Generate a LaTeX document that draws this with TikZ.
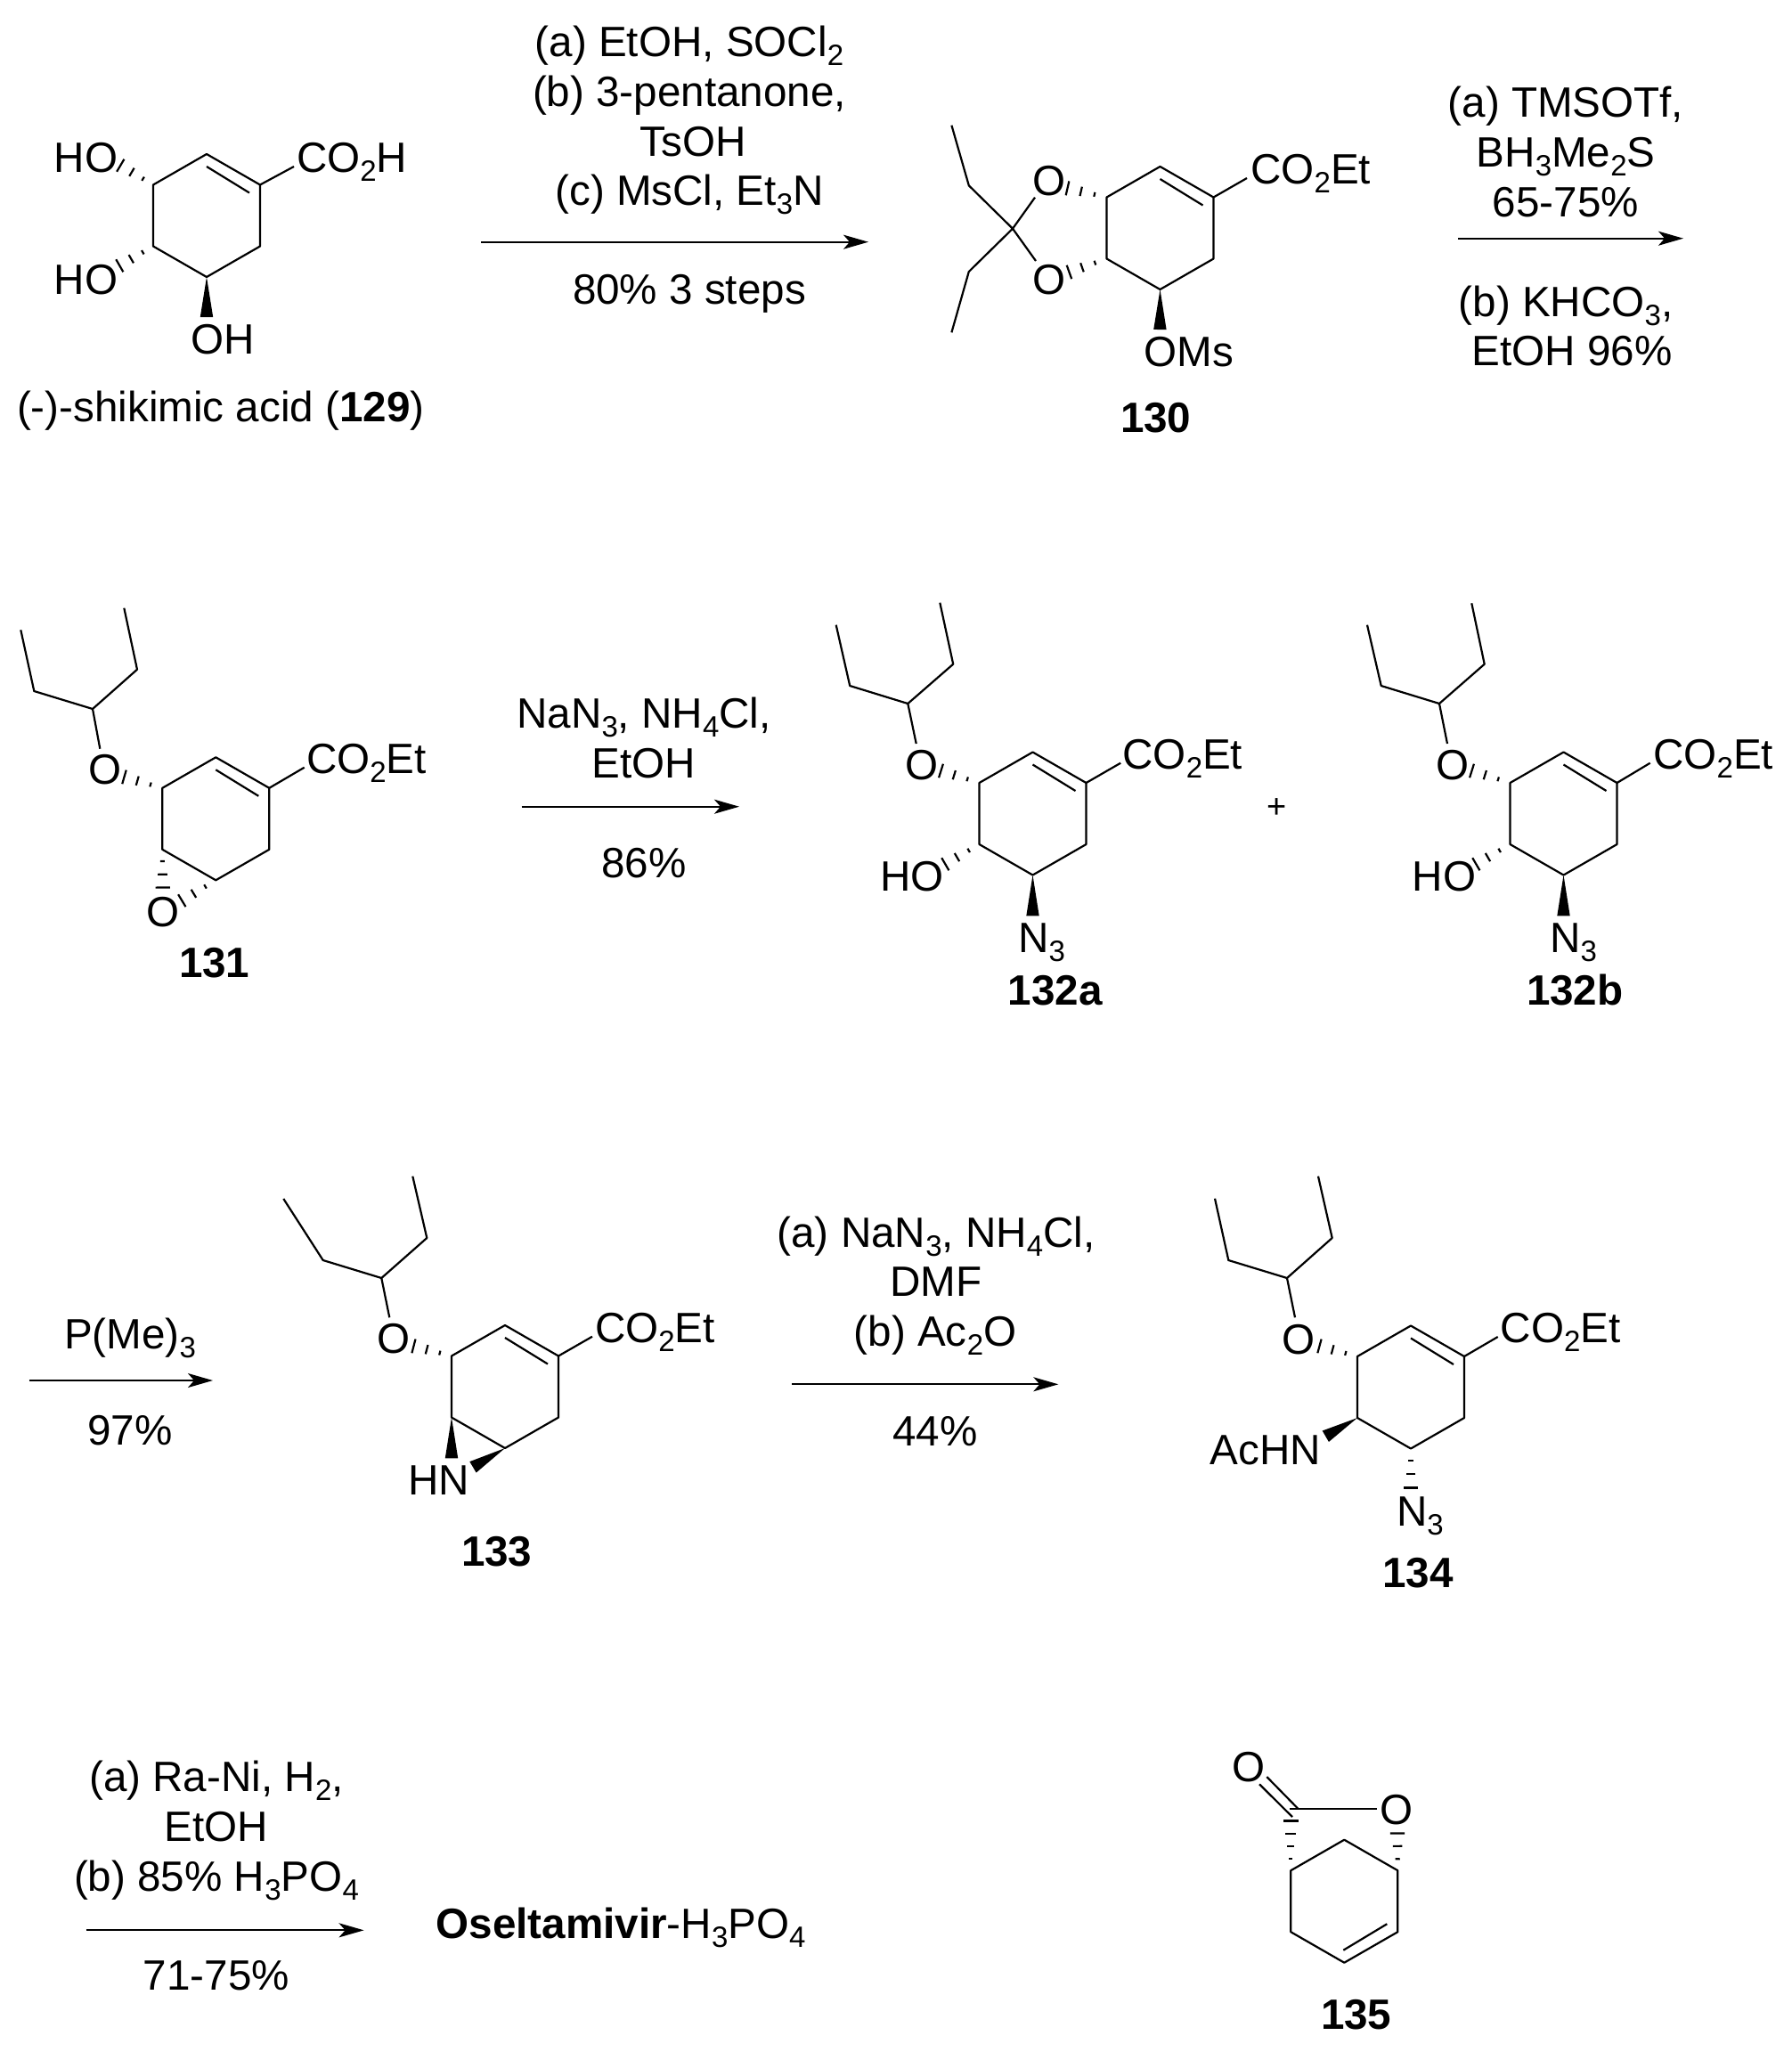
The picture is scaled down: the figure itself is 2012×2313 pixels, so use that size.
\documentclass[tikz,border=0pt]{standalone}
\usepackage{fontspec}
\setmainfont{Liberation Sans}
\usepackage{tikz}
\usetikzlibrary{calc,arrows.meta}

\newcommand{\sbs}[1]{\raisebox{-5pt}{\fontsize{16.5}{16.5}\selectfont #1}}
% six ring: 1 is the top corner, then clockwise
\newcommand{\ringsix}[3]{
	\coordinate (#11) at (#2,#3-69);
	\coordinate (#12) at (#2+60,#3-34.5);
	\coordinate (#13) at (#2+60,#3+34.5);
	\coordinate (#14) at (#2,#3+69);
	\coordinate (#15) at (#2-60,#3+34.5);
	\coordinate (#16) at (#2-60,#3-34.5);
	\draw[bond] (#11) -- (#12) -- (#13) -- (#14) -- (#15) -- (#16) -- cycle;
}
\newcommand{\enebond}[1]{\draw[bond] ($(#11)+(0,14)$) -- ($(#12)+(-12,9)$);}
\newcommand{\hashb}[3]{
	\foreach \i in {1,...,#3}{
		\pgfmathsetmacro{\hpos}{(\i-0.1)/#3}
		\pgfmathsetmacro{\hwid}{\hpos*4.2}
		\draw[bond] ($(#1)!\hpos!(#2)!\hwid pt!90:(#2)$) -- ($(#1)!\hpos!(#2)!\hwid pt!-90:(#2)$);
	}
}
\newcommand{\wedgeb}[2]{\fill[black] (#1) -- ($(#2)!3.6pt!90:(#1)$) -- ($(#2)!3.6pt!-90:(#1)$) -- cycle;}

\begin{document}
\begin{tikzpicture}[x=0.5pt,y=-0.5pt,>={Stealth[length=14pt,width=8pt,inset=3.5pt]}]
	\tikzstyle{bond}=[line width=1.1pt,line join=round]
	\tikzstyle{rxn}=[->,line width=1pt]
	\tikzstyle{atom}=[inner sep=0pt,anchor=base west,xshift=-1.2pt,font=\fontsize{23.8}{28}\selectfont]
	\tikzstyle{lab}=[inner sep=0pt,anchor=base,font=\fontsize{23.8}{28}\selectfont]

	\useasboundingbox (0,0) rectangle (2012,2313);

	% 129
	\ringsix{a}{232}{242}
	\enebond{a}
	\coordinate (ac) at (330,187);
	\coordinate (ao) at (134,185);
	\coordinate (ap) at (133,299);
	\coordinate (aw) at (232,356);
	\draw[bond] (a2) -- (ac);
	\hashb{a6}{ao}{3}
	\hashb{a5}{ap}{3}
	\wedgeb{a4}{aw}
	\node[atom] (aco2h) at (335,193) {CO\sbs{2}H};
	\node[atom] (aho1) at (63,193) {HO};
	\node[atom] (aho2) at (63,330) {HO};
	\node[atom] (aoh) at (216,397) {OH};
	\node[atom] (aname) at (21,473) {(-)-shikimic acid (\textbf{129})};

	% first arrow
	\node[lab] (r1a) at (774,63.3) {(a) EtOH, SOCl\sbs{2}};
	\node[lab] (r1b) at (774,119) {(b) 3-pentanone,};
	\node[lab] (r1c) at (778,175) {TsOH};
	\node[lab] (r1d) at (774,230.7) {(c) MsCl, Et\sbs{3}N};
	\node[lab] (r1e) at (774,341.7) {80\% 3 steps};
	\coordinate (r1s) at (540,271.7);
	\coordinate (r1t) at (975,271.7);
	\draw[rxn] (r1s) -- (r1t);

	% 130
	\ringsix{b}{1302.5}{256}
	\enebond{b}
	\coordinate (bq) at (1137,256.7);
	\coordinate (be1) at (1068.4,140.7);
	\coordinate (be2) at (1087.8,208.3);
	\coordinate (be3) at (1087.8,305);
	\coordinate (be4) at (1068.4,373.3);
	\coordinate (bo1) at (1162,221.7);
	\coordinate (bo2) at (1163,293);
	\coordinate (bh1) at (1197,211);
	\coordinate (bh2) at (1199,306);
	\coordinate (bw) at (1302.4,370);
	\coordinate (bc) at (1400,200);
	\draw[bond] (be1) -- (be2) -- (bq) -- (be3) -- (be4);
	\draw[bond] (bo1) -- (bq) -- (bo2);
	\draw[bond] (b2) -- (bc);
	\hashb{b6}{bh1}{3}
	\hashb{b5}{bh2}{3}
	\wedgeb{b4}{bw}
	\node[atom] (bco) at (1406.3,206) {CO\sbs{2}Et};
	\node[atom] (boa) at (1161,219.3) {O};
	\node[atom] (bob) at (1161,330) {O};
	\node[atom] (boms) at (1286.5,411.7) {OMs};
	\node[atom] (bname) at (1260,485) {\textbf{130}};

	% second arrow
	\node[lab] (r2a) at (1758,131.7) {(a) TMSOTf,};
	\node[lab] (r2b) at (1758,187.3) {BH\sbs{3}Me\sbs{2}S};
	\node[lab] (r2c) at (1758,243.3) {65-75\%};
	\node[lab] (r2d) at (1758,355) {(b) KHCO\sbs{3},};
	\node[lab] (r2e) at (1765,410.7) {EtOH 96\%};
	\coordinate (r2s) at (1637.3,267.7);
	\coordinate (r2t) at (1890,267.7);
	\draw[rxn] (r2s) -- (r2t);

	% 131
	\ringsix{c}{242.3}{919.3}
	\enebond{c}
	\coordinate (cp1) at (23.3,707.3);
	\coordinate (cp2) at (38.3,776);
	\coordinate (cp3) at (104,796);
	\coordinate (cp4) at (154,751.7);
	\coordinate (cp5) at (139.3,682.7);
	\coordinate (cp6) at (112.3,840.7);
	\coordinate (ch1) at (138,872);
	\coordinate (ch2) at (182.7,998);
	\coordinate (ch3) at (203,1012);
	\coordinate (cc) at (341.7,861.7);
	\draw[bond] (cp1) -- (cp2) -- (cp3) -- (cp4) -- (cp5);
	\draw[bond] (cp3) -- (cp6);
	\draw[bond] (c2) -- (cc);
	\hashb{c6}{ch1}{3}
	\hashb{c5}{ch2}{3}
	\hashb{c4}{ch3}{3}
	\node[atom] (cco) at (346,868) {CO\sbs{2}Et};
	\node[atom] (coa) at (101.7,880.7) {O};
	\node[atom] (cob) at (166.7,1040) {O};
	\node[atom] (cname) at (203,1097.3) {\textbf{131}};

	% third arrow
	\node[lab] (r3a) at (723,817.5) {NaN\sbs{3}, NH\sbs{4}Cl,};
	\node[lab] (r3b) at (723,873) {EtOH};
	\node[lab] (r3c) at (723,985) {86\%};
	\coordinate (r3s) at (585.6,905.7);
	\coordinate (r3t) at (830,905.7);
	\draw[rxn] (r3s) -- (r3t);

	% 132a
	\ringsix{d}{1159.5}{913.5}
	\enebond{d}
	\coordinate (dp1) at (938.7,701.7);
	\coordinate (dp2) at (954.2,770);
	\coordinate (dp3) at (1019.3,790);
	\coordinate (dp4) at (1070.2,745.7);
	\coordinate (dp5) at (1055.3,676.7);
	\coordinate (dp6) at (1028.7,835);
	\coordinate (dh1) at (1055,865);
	\coordinate (dh2) at (1060,971);
	\coordinate (dw) at (1159.5,1028.3);
	\coordinate (dc) at (1258.2,856.7);
	\draw[bond] (dp1) -- (dp2) -- (dp3) -- (dp4) -- (dp5);
	\draw[bond] (dp3) -- (dp6);
	\draw[bond] (d2) -- (dc);
	\hashb{d6}{dh1}{3}
	\hashb{d5}{dh2}{3}
	\wedgeb{d4}{dw}
	\node[atom] (dco) at (1262.4,863.3) {CO\sbs{2}Et};
	\node[atom] (do) at (1018.3,875.7) {O};
	\node[atom] (dho) at (990.6,1000) {HO};
	\node[atom] (dn) at (1145.3,1069) {N\sbs{3}};
	\node[atom] (dname) at (1133.6,1128.3) {\textbf{132a}};

	\node[lab,font=\fontsize{19}{19}\selectfont] (plus) at (1434,918) {+};

	% 132b
	\ringsix{e}{1755.5}{913.5}
	\enebond{e}
	\coordinate (ep1) at (1535,701.7);
	\coordinate (ep2) at (1550.7,770);
	\coordinate (ep3) at (1616,790);
	\coordinate (ep4) at (1666.7,745.7);
	\coordinate (ep5) at (1652.3,677.3);
	\coordinate (ep6) at (1625,835);
	\coordinate (eh1) at (1651,865);
	\coordinate (eh2) at (1656,971);
	\coordinate (ew) at (1755.5,1028.3);
	\coordinate (ec) at (1852.7,856.7);
	\draw[bond] (ep1) -- (ep2) -- (ep3) -- (ep4) -- (ep5);
	\draw[bond] (ep3) -- (ep6);
	\draw[bond] (e2) -- (ec);
	\hashb{e6}{eh1}{3}
	\hashb{e5}{eh2}{3}
	\wedgeb{e4}{ew}
	\node[atom] (eco) at (1858.3,863.3) {CO\sbs{2}Et};
	\node[atom] (eo) at (1614,875.7) {O};
	\node[atom] (eho) at (1587.7,1000) {HO};
	\node[atom] (en) at (1742.3,1069) {N\sbs{3}};
	\node[atom] (ename) at (1716,1128.3) {\textbf{132b}};

	% fourth arrow
	\node[lab] (r4a) at (146,1514.8) {P(Me)\sbs{3}};
	\node[lab] (r4b) at (146,1622.6) {97\%};
	\coordinate (r4s) at (32.5,1550);
	\coordinate (r4t) at (239,1550);
	\draw[rxn] (r4s) -- (r4t);

	% 133
	\ringsix{f}{567}{1557}
	\enebond{f}
	\coordinate (fp1) at (318.3,1346);
	\coordinate (fp2) at (362.7,1415);
	\coordinate (fp3) at (428.3,1435);
	\coordinate (fp4) at (479.3,1390);
	\coordinate (fp5) at (463.3,1320.7);
	\coordinate (fp6) at (437.3,1479.3);
	\coordinate (fh1) at (463,1511);
	\coordinate (fw1) at (507,1637.3);
	\coordinate (fw2) at (531,1647.3);
	\coordinate (fc) at (665,1500.7);
	\draw[bond] (fp1) -- (fp2) -- (fp3) -- (fp4) -- (fp5);
	\draw[bond] (fp3) -- (fp6);
	\draw[bond] (f2) -- (fc);
	\hashb{f6}{fh1}{3}
	\wedgeb{f5}{fw1}
	\wedgeb{f4}{fw2}
	\node[atom] (fco) at (670,1507.3) {CO\sbs{2}Et};
	\node[atom] (fo) at (425,1519.3) {O};
	\node[atom] (fhn) at (460,1678.3) {HN};
	\node[atom] (fname) at (520,1758.3) {\textbf{133}};

	% fifth arrow
	\node[lab] (r5a) at (1051,1400) {(a) NaN\sbs{3}, NH\sbs{4}Cl,};
	\node[lab] (r5b) at (1051,1455.7) {DMF};
	\node[lab] (r5c) at (1050,1511.7) {(b) Ac\sbs{2}O};
	\node[lab] (r5d) at (1050,1623.3) {44\%};
	\coordinate (r5s) at (889.3,1554.3);
	\coordinate (r5t) at (1188.3,1554.3);
	\draw[rxn] (r5s) -- (r5t);

	% 134
	\ringsix{g}{1584}{1557.5}
	\enebond{g}
	\coordinate (gp1) at (1364,1345.7);
	\coordinate (gp2) at (1379.3,1415);
	\coordinate (gp3) at (1445,1435);
	\coordinate (gp4) at (1495.7,1390);
	\coordinate (gp5) at (1480,1320.7);
	\coordinate (gp6) at (1454,1479.3);
	\coordinate (gh1) at (1480,1511);
	\coordinate (gw) at (1488.3,1612.7);
	\coordinate (gh2) at (1584,1672);
	\coordinate (gc) at (1681.7,1501);
	\draw[bond] (gp1) -- (gp2) -- (gp3) -- (gp4) -- (gp5);
	\draw[bond] (gp3) -- (gp6);
	\draw[bond] (g2) -- (gc);
	\hashb{g6}{gh1}{3}
	\wedgeb{g5}{gw}
	\hashb{g4}{gh2}{3}
	\node[atom] (gco) at (1686.7,1507.3) {CO\sbs{2}Et};
	\node[atom] (go) at (1441.7,1520) {O};
	\node[atom] (gac) at (1360.5,1644) {AcHN};
	\node[atom] (gn) at (1570,1713.3) {N\sbs{3}};
	\node[atom] (gname) at (1554.3,1782.7) {\textbf{134}};

	% last arrow
	\node[lab] (r6a) at (243,2011.7) {(a) Ra-Ni, H\sbs{2},};
	\node[lab] (r6b) at (243,2067.3) {EtOH};
	\node[lab] (r6c) at (243,2123.3) {(b) 85\% H\sbs{3}PO\sbs{4}};
	\node[lab] (r6d) at (243,2234) {71-75\%};
	\coordinate (r6s) at (96.7,2167.3);
	\coordinate (r6t) at (408.6,2167.3);
	\draw[rxn] (r6s) -- (r6t);
	\node[atom] (drug) at (491.5,2176.7) {\textbf{Oseltamivir}-H\sbs{3}PO\sbs{4}};

	% 135
	\ringsix{h}{1509.3}{2134.7}
	\coordinate (hc) at (1457.3,2030.7);
	\coordinate (hl) at (1448.3,2030.7);
	\coordinate (hr) at (1546,2030.7);
	\coordinate (hd1) at (1422.3,1995);
	\coordinate (hd2) at (1414,2003.3);
	\coordinate (hd3) at (1451,2040);
	\coordinate (hh1) at (1449.3,2043);
	\coordinate (hh2) at (1569,2057);
	\draw[bond] (hl) -- (hr);
	\draw[bond] (hd1) -- (hc);
	\draw[bond] (hd2) -- (hd3);
	\draw[bond] ($(h3)+(-12,-9)$) -- ($(h4)+(-1,-14)$);
	\hashb{h6}{hh1}{4}
	\hashb{h2}{hh2}{3}
	\node[atom] (hoa) at (1385,2000.7) {O};
	\node[atom] (hob) at (1551.7,2048.7) {O};
	\node[atom] (hname) at (1485,2278.3) {\textbf{135}};
\end{tikzpicture}
\end{document}
